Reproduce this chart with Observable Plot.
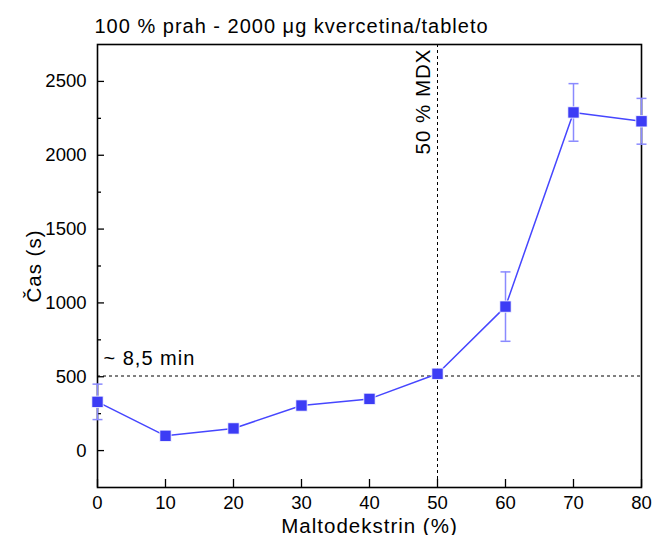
<!DOCTYPE html>
<html><head><meta charset="utf-8">
<script src="https://cdn.jsdelivr.net/npm/d3@7"></script>
<script src="https://cdn.jsdelivr.net/npm/@observablehq/plot@0.6"></script>
<style>
html,body{margin:0;padding:0;background:#fff;}
#chart svg{font-family:"Liberation Sans",Arial,sans-serif;display:block;}
#chart svg g[aria-label="text"] text{letter-spacing:1px;}
</style>
</head><body><div id="chart"></div>
<script>
const maltodextrin = [0, 10, 20, 30, 40, 50, 60, 70, 80];
const time = [330, 100, 150, 305, 350, 520, 975, 2290, 2230];
const errorSize = [120, 0, 0, 0, 0, 0, 235, 195, 155];
const xTicks = [0, 10, 20, 30, 40, 50, 60, 70, 80];
const yTicks = [0, 500, 1000, 1500, 2000, 2500];
const yMinorTicks = [250, 750, 1250, 1750, 2250];
const refTime = [505];
const refMdx = [50];
const titleText = "100 % prah - 2000 μg kvercetina/tableto";
const refTimeLabel = "~ 8,5 min";
const refMdxLabel = "50 % MDX";
const xLabel = "Maltodekstrin (%)";
const yLabel = "Čas (s)";

const data = maltodextrin.map((m, i) => ({m, t: time[i], e: errorSize[i]}));
const errData = data.filter(d => d.e > 0);
const plain = d => String(d);

const capSymbol = {draw(ctx, size) { const r = Math.sqrt(size / Math.PI); ctx.moveTo(-r, 0); ctx.lineTo(r, 0); }};

const plot = Plot.plot({
  width: 654,
  height: 535,
  marginLeft: 97,
  marginRight: 13,
  marginTop: 44,
  marginBottom: 48,
  style: {fontFamily: '"Liberation Sans", Arial, sans-serif', fontSize: "18px", color: "#000", background: "#fff", overflow: "visible"},
  x: {domain: [0, 80], ticks: xTicks, label: null, tickFormat: plain},
  y: {domain: [-250, 2750], ticks: yTicks, label: null, tickFormat: plain},
  marks: [
    Plot.frame({stroke: "#000", strokeWidth: 1.6}),
    // inward ticks
    Plot.axisX(xTicks, {tickSize: 8, dy: -8, text: null, strokeWidth: 1.3, label: null}),
    Plot.axisX(xTicks, {tickSize: 0, tickPadding: 8, fontSize: 18.5, label: null, tickFormat: plain}),
    Plot.axisY(yTicks, {tickSize: 7, dx: 7, text: null, strokeWidth: 1.3, label: null}),
    Plot.axisY(yMinorTicks, {tickSize: 4, dx: 4, text: null, strokeWidth: 1.3, label: null}),
    Plot.axisY(yTicks, {tickSize: 0, tickPadding: 11, fontSize: 18.5, label: null, tickFormat: plain}),
    // axis labels
    Plot.text([xLabel], {frameAnchor: "bottom", dy: 45, lineAnchor: "bottom", textAnchor: "middle", fontSize: 20.5}),
    Plot.text([yLabel], {frameAnchor: "left", dx: -57, rotate: -90, lineAnchor: "bottom", textAnchor: "middle", fontSize: 20.5}),
    Plot.text([titleText], {frameAnchor: "top-left", dy: -12, dx: -3, lineAnchor: "bottom", textAnchor: "start", fontSize: 20}),
    // reference lines
    Plot.ruleY(refTime, {stroke: "#000", strokeWidth: 1, strokeDasharray: "3,3"}),
    Plot.ruleX(refMdx, {stroke: "#000", strokeWidth: 1, strokeDasharray: "3,3"}),
    Plot.text([refTimeLabel], {x: 0, y: refTime[0], dx: 6, dy: -11, textAnchor: "start", lineAnchor: "bottom", fontSize: 20}),
    Plot.text([refMdxLabel], {x: refMdx[0], frameAnchor: "top", dx: -8, dy: 4, rotate: -90, textAnchor: "end", lineAnchor: "bottom", fontSize: 20.5}),
    // error bars
    Plot.ruleX(errData, {x: "m", y1: d => d.t - d.e, y2: d => d.t + d.e, stroke: "#8a8aff", strokeWidth: 1.5}),
    Plot.dot(errData, {x: "m", y: d => d.t - d.e, symbol: capSymbol, r: 5, stroke: "#8a8aff", strokeWidth: 1.5, fill: "none"}),
    Plot.dot(errData, {x: "m", y: d => d.t + d.e, symbol: capSymbol, r: 5, stroke: "#8a8aff", strokeWidth: 1.5, fill: "none"}),
    // line and markers
    Plot.line(data, {x: "m", y: "t", stroke: "#4646ff", strokeWidth: 1.5}),
    Plot.dot(data, {x: "m", y: "t", symbol: "square", r: 6.4, fill: "#3c3cf5", stroke: "#fff", strokeWidth: 0.8})
  ]
});
document.getElementById("chart").appendChild(plot);
</script>
</body></html>
